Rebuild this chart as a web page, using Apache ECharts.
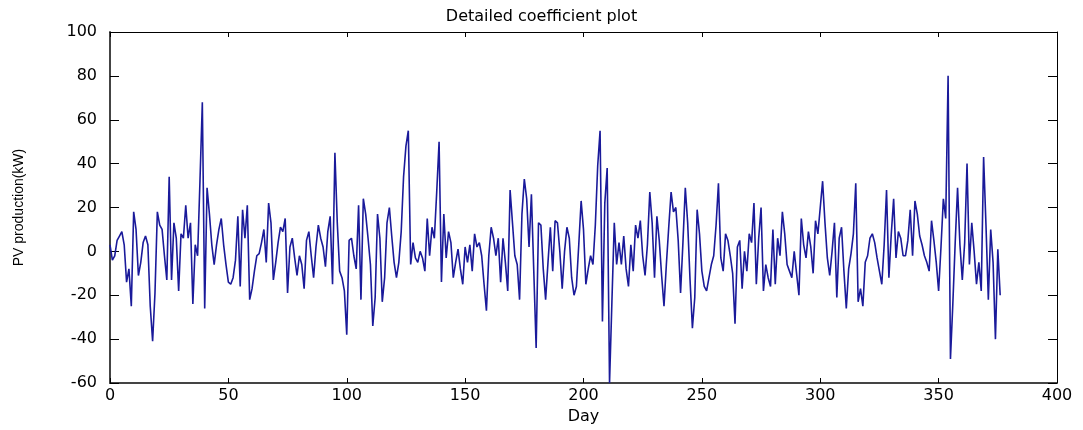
<!DOCTYPE html>
<html>
<head>
<meta charset="utf-8">
<title>Detailed coefficient plot</title>
<script src="https://cdn.jsdelivr.net/npm/echarts@6/dist/echarts.min.js"></script>
<style>
  html, body { margin: 0; padding: 0; background: #fff; }
  #chart { width: 1083px; height: 430px; }
</style>
</head>
<body>
<div id="chart"></div>
<script>
// Daily detail coefficients of PV production (kW), one value per day starting at day 0
const production = [
  3, -4, -2, 5, 7, 9, 3, -14, -8, -25,
  18, 10, -11, -5, 4, 7, 3, -25, -41, -19,
  18, 12, 10, -2, -13, 34, -13, 13, 6, -18,
  8, 6, 21, 6, 13, -24, 3, -2, 32, 68,
  -26, 29, 17, 3, -6, 3, 10, 15, 3, -6,
  -14, -15, -12, -4, 16, -16, 19, 6, 21, -22,
  -17, -9, -2, -1, 4, 10, -5, 22, 13, -13,
  -5, 4, 11, 9, 15, -19, 2, 6, -3, -11,
  -2, -6, -17, 5, 9, -2, -12, 2, 12, 6,
  2, -7, 9, 16, -15, 45, 13, -9, -12, -18,
  -38, 5, 6, -2, -8, 21, -22, 24, 17, 6,
  -6, -34, -21, 17, 6, -23, -12, 13, 20, 7,
  -5, -12, -5, 9, 34, 48, 55, -6, 4, -3,
  -5, 0, -3, -9, 15, -2, 11, 6, 27, 50,
  -14, 17, -3, 9, 4, -12, -5, 1, -8, -15,
  2, -5, 3, -9, 8, 2, 4, -2, -15, -27,
  -2, 11, 6, -2, 6, -14, 6, -5, -18, 28,
  13, -2, -6, -22, 17, 33, 24, 2, 26, -9,
  -44, 13, 12, -8, -22, -5, 11, -9, 14, 13,
  0, -17, 0, 11, 6, -12, -20, -16, 3, 23,
  10, -15, -8, -2, -6, 12, 39, 55, -32, 22,
  38, -60, -23, 13, -6, 4, -6, 7, -8, -16,
  3, -9, 12, 6, 14, -2, -11, 3, 27, 13,
  -12, 16, 5, -11, -25, -6, 11, 27, 18, 20,
  5, -19, 4, 29, 13, -13, -35, -21, 19, 8,
  -9, -16, -18, -12, -6, -2, 12, 31, -3, -9,
  8, 5, -2, -10, -33, 2, 5, -17, 0, -9,
  8, 4, 22, -15, 6, 20, -18, -6, -12, -16,
  10, -15, 6, -2, 18, 8, -6, -9, -12, 0,
  -10, -20, 15, 3, -3, 9, 2, -10, 14, 8,
  20, 32, 13, -3, -11, 0, 13, -21, 6, 11,
  -9, -26, -8, -1, 8, 31, -23, -17, -25, -5,
  -2, 6, 8, 4, -3, -9, -15, 3, 28, -12,
  8, 24, -3, 9, 6, -2, -2, 5, 19, -2,
  23, 17, 7, 3, -2, -5, -9, 14, 5, -5,
  -18, 2, 24, 15, 80, -49, -24, 4, 29, 3,
  -13, 4, 40, -6, 13, 0, -15, -5, -18, 43,
  12, -22, 10, -5, -40, 1, -20
];

// Tick values of both axes
const dayTicks = [0, 50, 100, 150, 200, 250, 300, 350, 400];
const kwTicks = [-60, -40, -20, 0, 20, 40, 60, 80, 100];

const titleText = 'Detailed coefficient plot';
const xName = 'Day';
const yName = 'PV production(kW)';

const FONT = 'DejaVu Sans';
const seriesData = production.map((v, day) => [day, v]);

function axisBase(ticks, extra) {
  return Object.assign({
    type: 'value',
    min: ticks[0],
    max: ticks[ticks.length - 1],
    interval: ticks[1] - ticks[0],
    splitLine: { show: false },
    axisLine: { show: true, onZero: false, lineStyle: { color: '#000', width: 1 } },
    axisTick: { show: true, inside: true, length: 5, lineStyle: { color: '#000', width: 1 } },
    axisLabel: { show: false }
  }, extra);
}

const chart = echarts.init(document.getElementById('chart'), null, { renderer: 'canvas' });

chart.setOption({
  animation: false,
  backgroundColor: '#fff',
  title: {
    text: titleText,
    left: 'center',
    top: 4,
    textStyle: { fontFamily: FONT, fontSize: 16, fontWeight: 'normal', color: '#000' }
  },
  grid: { left: 110, right: 26, top: 32, bottom: 47, containLabel: false },
  xAxis: [
    axisBase(dayTicks, {
      position: 'bottom',
      axisLine: { show: true, onZero: false, lineStyle: { color: '#444', width: 2 } },
      axisLabel: { show: true, color: '#000', fontFamily: FONT, fontSize: 16, margin: 5 },
      name: xName,
      nameLocation: 'middle',
      nameGap: 25,
      nameTextStyle: { fontFamily: FONT, fontSize: 16, color: '#000' }
    }),
    axisBase(dayTicks, { position: 'top' })
  ],
  yAxis: [
    axisBase(kwTicks, {
      position: 'left',
      axisLine: { show: true, onZero: false, lineStyle: { color: '#444', width: 2 } },
      axisTick: { show: true, inside: true, length: 9, lineStyle: { color: '#000', width: 1 } },
      axisLabel: { show: true, color: '#000', fontFamily: FONT, fontSize: 16, margin: 13 },
      name: yName,
      nameLocation: 'middle',
      nameGap: 84,
      nameTextStyle: { fontFamily: 'Liberation Sans', fontSize: 14, color: '#000' }
    }),
    axisBase(kwTicks, {
      position: 'right',
      axisTick: { show: true, inside: true, length: 9, lineStyle: { color: '#000', width: 1 } }
    })
  ],
  series: [{
    type: 'line',
    data: seriesData,
    xAxisIndex: 0,
    yAxisIndex: 0,
    showSymbol: false,
    symbol: 'none',
    clip: true,
    lineStyle: { color: '#1a1a9a', width: 1.6 }
  }]
});
</script>
</body>
</html>
